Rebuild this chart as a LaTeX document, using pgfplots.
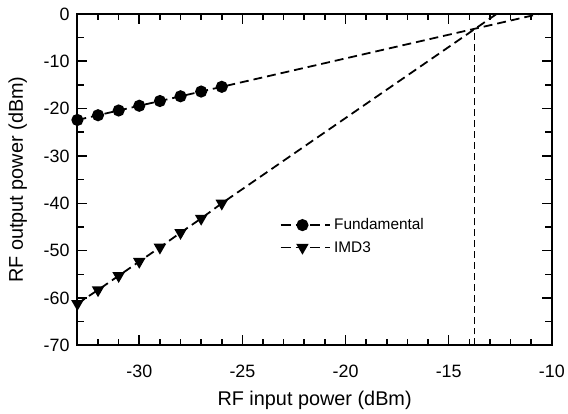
\documentclass[border=0pt]{standalone}
\usepackage{fontspec}
\setmainfont{Liberation Sans}
\usepackage{pgfplots}
\pgfplotsset{compat=1.18}
\begin{document}
\begin{tikzpicture}
\begin{axis}[
  scale only axis, width=478bp, height=334bp,
  xmin=-33, xmax=-10, ymin=-70, ymax=0,
  xtick={-30,-25,-20,-15,-10}, minor xtick={-33,-32,...,-10},
  ytick={-70,-60,...,0}, minor ytick={-65,-55,...,-5},
  tick align=inside, major tick length=10bp, minor tick length=6.5bp,
  every tick/.style={line width=1.6bp, black},
  axis line style={line width=2bp},
  /pgf/number format/assume math mode=true,
  ticklabel style={font=\fontsize{18bp}{21bp}\selectfont},
  xticklabel style={anchor=base, yshift=-32bp},
  yticklabel style={xshift=-4.5bp},
  every axis x label/.style={at={(axis description cs:0.5,0)}, yshift=-61bp, anchor=base, font=\fontsize{20bp}{24bp}\selectfont},
  every axis y label/.style={at={(axis description cs:0,0.5)}, xshift=-55bp, rotate=90, anchor=base, font=\fontsize{20bp}{24bp}\selectfont},
  xlabel={RF input power (dBm)}, ylabel={RF output power (dBm)},
  legend style={at={(axis cs:-23.2,-42.6)}, anchor=north west, draw=none, fill=none,
    font=\fontsize{15.5bp}{18bp}\selectfont, row sep=4bp, inner sep=0pt,
    nodes={inner sep=3bp}},
  legend cell align=left,
  legend image code/.code={\draw[dash pattern=on 10bp off 5bp] (0bp,0bp) -- (50bp,0bp); \draw[solid] plot coordinates {(22bp,0bp)};},
]
\addplot[black, line width=1.8bp, dash pattern=on 9bp off 5bp, mark=*, mark size=5.2bp,
  mark options={solid}, mark indices={1,2,3,4,5,6,7,8}]
  coordinates {(-33,-22.4)(-32,-21.4)(-31,-20.4)(-30,-19.4)(-29,-18.4)(-28,-17.4)(-27,-16.4)(-26,-15.4)(-10.6,0)};
\addlegendentry{Fundamental}
\addplot[black, line width=1.8bp, dash pattern=on 9bp off 5bp, mark=triangle*, mark size=5.5bp,
  mark options={solid, rotate=180}, mark indices={1,2,3,4,5,6,7,8}]
  coordinates {(-33,-61.2)(-32,-58.3)(-31,-55.3)(-30,-52.3)(-29,-49.3)(-28,-46.2)(-27,-43.2)(-26,-40.0)(-12.67,0)};
\addlegendentry{IMD3}
\addplot[black, line width=1bp, dash pattern=on 7bp off 4bp, forget plot]
  coordinates {(-13.75,-70)(-13.75,-3.3)};
\end{axis}
\path ([shift={(-78bp,-66bp)}]current axis.south west) rectangle ([shift={(12bp,14bp)}]current axis.north east);
\end{tikzpicture}
\end{document}
